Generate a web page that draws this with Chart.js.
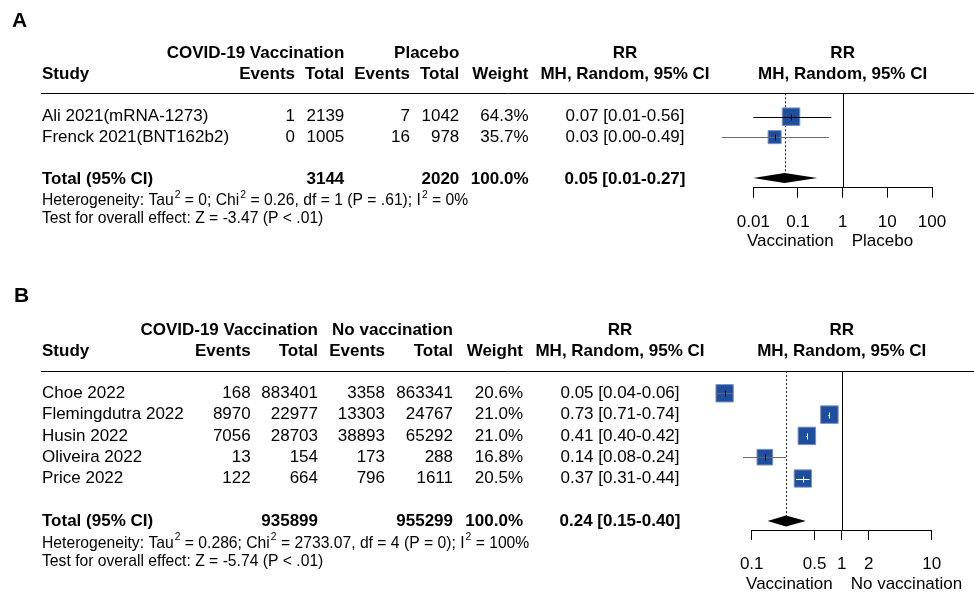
<!DOCTYPE html>
<html>
<head>
<meta charset="utf-8">
<title>Forest plots: COVID-19 vaccination</title>
<script src="https://cdn.jsdelivr.net/npm/chart.js@4.4.1/dist/chart.umd.min.js"></script>
<style>
  html, body { margin: 0; padding: 0; background: #fff; }
  #wrap { position: relative; width: 974px; height: 594px; overflow: hidden; }
  canvas { position: absolute; left: 0; }
</style>
</head>
<body>
<div id="wrap">
  <canvas id="panelA" width="974" height="280" style="top:0px"></canvas>
  <canvas id="panelB" width="974" height="314" style="top:280px"></canvas>
</div>
<script>
// ---------- Panel A: vaccination vs placebo ----------
const studiesA    = ['Ali 2021(mRNA-1273)', 'Frenck 2021(BNT162b2)'];
const vacEventsA  = [1, 0];
const vacTotalA   = [2139, 1005];
const ctrlEventsA = [7, 16];
const ctrlTotalA  = [1042, 978];
const weightA     = [64.3, 35.7];
const rrA         = [0.07, 0.03];
const rrLowA      = [0.01, 0.002];
const rrHighA     = [0.56, 0.49];
const pooledA     = [0.05, 0.01, 0.27];   // estimate, lower, upper
const ticksA      = [0.01, 0.1, 1, 10, 100];
const tickLabelsA = ['0.01', '0.1', '1', '10', '100'];
const groupsA     = ['COVID-19 Vaccination', 'Placebo'];
const sidesA      = ['Vaccination', 'Placebo'];
const notesA      = ['Heterogeneity: Tau² = 0; Chi² = 0.26, df = 1 (P = .61); I² = 0%',
                     'Test for overall effect: Z = -3.47 (P < .01)'];

// ---------- Panel B: vaccination vs no vaccination ----------
const studiesB    = ['Choe 2022', 'Flemingdutra 2022', 'Husin 2022', 'Oliveira 2022', 'Price 2022'];
const vacEventsB  = [168, 8970, 7056, 13, 122];
const vacTotalB   = [883401, 22977, 28703, 154, 664];
const ctrlEventsB = [3358, 13303, 38893, 173, 796];
const ctrlTotalB  = [863341, 24767, 65292, 288, 1611];
const weightB     = [20.6, 21.0, 21.0, 16.8, 20.5];
const rrB         = [0.05, 0.73, 0.41, 0.14, 0.37];
const rrLowB      = [0.04, 0.71, 0.40, 0.08, 0.31];
const rrHighB     = [0.06, 0.74, 0.42, 0.24, 0.44];
const pooledB     = [0.24, 0.15, 0.40];
const ticksB      = [0.1, 0.5, 1, 2, 10];
const tickLabelsB = ['0.1', '0.5', '1', '2', '10'];
const groupsB     = ['COVID-19 Vaccination', 'No vaccination'];
const sidesB      = ['Vaccination', 'No vaccination'];
const notesB      = ['Heterogeneity: Tau² = 0.286; Chi² = 2733.07, df = 4 (P = 0); I² = 100%',
                     'Test for overall effect: Z = -5.74 (P < .01)'];

// ---------- drawing ----------
const FAMILY = '"Liberation Sans", Arial, Helvetica, sans-serif';
const BODY = 17, NOTE = 15.7;
const SQUARE_MAX = 17.5;          // side of the heaviest study's box
const BOX_FILL = '#1e4f9f', BOX_EDGE = '#7d8fbd';

Chart.defaults.font.family = FAMILY;
Chart.defaults.color = '#000';

function font(size, bold) { return (bold ? 'bold ' : '') + size + 'px ' + FAMILY; }
function text(ctx, s, x, y, align, size, bold) {
  ctx.font = font(size, bold);
  ctx.textAlign = align;
  ctx.textBaseline = 'middle';
  ctx.fillStyle = '#000';
  ctx.fillText(s, x, y);
}
// "²" is drawn as a raised small 2
function noteText(ctx, s, x, y, size) {
  ctx.textAlign = 'left';
  ctx.textBaseline = 'middle';
  ctx.fillStyle = '#000';
  let cx = x;
  s.split('²').forEach((part, i) => {
    if (i > 0) {
      ctx.font = font(size * 0.66, false);
      ctx.fillText('2', cx + 1, y - size * 0.4);
      cx += ctx.measureText('2').width + 1;
    }
    ctx.font = font(size, false);
    ctx.fillText(part, cx, y);
    cx += ctx.measureText(part).width;
  });
}
function seg(ctx, x1, y1, x2, y2) {
  ctx.beginPath(); ctx.moveTo(x1, y1); ctx.lineTo(x2, y2); ctx.stroke();
}
const fmt = v => v.toFixed(2);
const ciLabel = (e, l, h) => `${fmt(e)} [${fmt(l)}-${fmt(h)}]`;
const sum = a => a.reduce((s, v) => s + v, 0);

function drawPanel(canvasId, p, L) {
  const n = p.studies.length;
  const totalRow = n + 1;
  const maxW = Math.max(...p.weight);
  const side = w => SQUARE_MAX * Math.sqrt(w / maxW);

  const forest = {
    id: 'forest' + canvasId,
    beforeDatasetsDraw(chart) {
      const { ctx, chartArea } = chart;
      const xs = chart.scales.x, ys = chart.scales.y;
      ctx.save();
      ctx.strokeStyle = '#000';
      ctx.lineWidth = 1;
      const ry = Math.round(chartArea.top) + 0.5;
      seg(ctx, L.ruleLeft, ry, chart.width, ry);
      const x1 = Math.round(xs.getPixelForValue(1)) + 0.5;
      seg(ctx, x1, chartArea.top, x1, chartArea.bottom);
      const xp = Math.round(xs.getPixelForValue(p.pooled[0])) + 0.5;
      ctx.setLineDash([2, 2]);
      ctx.strokeStyle = '#222';
      seg(ctx, xp, chartArea.top, xp, ys.getPixelForValue(totalRow));
      ctx.restore();
    },
    afterDatasetsDraw(chart) {
      const { ctx, chartArea } = chart;
      const xs = chart.scales.x, ys = chart.scales.y;
      ctx.save();
      // boxes whose estimate lies beyond the axis range are skipped by the
      // point element's area test, so draw those without an area limit
      chart.getDatasetMeta(0).data.forEach(pt => {
        if (pt.x < chartArea.left || pt.x > chartArea.right) pt.draw(ctx);
      });
      ctx.lineWidth = 1;
      p.rr.forEach((rr, i) => {
        const y = Math.round(ys.getPixelForValue(i)) + 0.5;
        const xe = xs.getPixelForValue(rr);
        const xl = xs.getPixelForValue(p.low[i]);
        const xh = xs.getPixelForValue(p.high[i]);
        const half = side(p.weight[i]) / 2;
        const inside = xl >= xe - half && xh <= xe + half;
        const offScale = p.low[i] < xs.min || p.high[i] > xs.max;
        ctx.strokeStyle = inside ? '#fff' : (offScale ? '#6a6a6a' : '#000');
        seg(ctx, xl, y, xh, y);
        ctx.strokeStyle = inside ? '#fff' : '#000';
        const xt = Math.round(xe) + 0.5;
        seg(ctx, xt, y - 3, xt, y + 3);
      });
      // pooled diamond
      const yT = ys.getPixelForValue(totalRow);
      const [pe, pl, ph] = p.pooled.map(v => xs.getPixelForValue(v));
      ctx.fillStyle = '#000';
      ctx.beginPath();
      ctx.moveTo(pl, yT); ctx.lineTo(pe, yT - L.diamondHalf);
      ctx.lineTo(ph, yT); ctx.lineTo(pe, yT + L.diamondHalf);
      ctx.closePath(); ctx.fill();
      ctx.restore();
    },
    afterDraw(chart) {
      const { ctx, chartArea } = chart;
      const xs = chart.scales.x, ys = chart.scales.y;
      const C = L.cols;
      const plotMid = (chartArea.left + chartArea.right) / 2;
      ctx.save();
      // panel letter
      ctx.font = 'bold ' + L.letterSize + 'px ' + FAMILY;
      ctx.textAlign = 'left'; ctx.textBaseline = 'middle'; ctx.fillStyle = '#000';
      ctx.fillText(L.letter, L.letterX, L.letterY);
      // headers
      text(ctx, p.groups[0], C.tot1, L.head1Y, 'right', BODY, true);
      text(ctx, p.groups[1], C.tot2, L.head1Y, 'right', BODY, true);
      text(ctx, 'RR', C.ci, L.head1Y, 'center', BODY, true);
      text(ctx, 'RR', plotMid, L.head1Y, 'center', BODY, true);
      text(ctx, 'Study', C.study, L.head2Y, 'left', BODY, true);
      text(ctx, 'Events', C.ev1, L.head2Y, 'right', BODY, true);
      text(ctx, 'Total', C.tot1, L.head2Y, 'right', BODY, true);
      text(ctx, 'Events', C.ev2, L.head2Y, 'right', BODY, true);
      text(ctx, 'Total', C.tot2, L.head2Y, 'right', BODY, true);
      text(ctx, 'Weight', C.weight, L.head2Y, 'right', BODY, true);
      text(ctx, 'MH, Random, 95% CI', C.ci, L.head2Y, 'center', BODY, true);
      text(ctx, 'MH, Random, 95% CI', plotMid, L.head2Y, 'center', BODY, true);
      // study rows
      p.studies.forEach((s, i) => {
        const y = ys.getPixelForValue(i);
        text(ctx, s, C.study, y, 'left', BODY, false);
        text(ctx, String(p.vacEvents[i]), C.ev1, y, 'right', BODY, false);
        text(ctx, String(p.vacTotal[i]), C.tot1, y, 'right', BODY, false);
        text(ctx, String(p.ctrlEvents[i]), C.ev2, y, 'right', BODY, false);
        text(ctx, String(p.ctrlTotal[i]), C.tot2, y, 'right', BODY, false);
        text(ctx, p.weight[i].toFixed(1) + '%', C.weight, y, 'right', BODY, false);
        text(ctx, ciLabel(p.rr[i], p.low[i], p.high[i]), C.ci, y, 'center', BODY, false);
      });
      // pooled row
      const yT = ys.getPixelForValue(totalRow) + L.totalTextShift;
      text(ctx, 'Total (95% CI)', C.study, yT, 'left', BODY, true);
      text(ctx, String(sum(p.vacTotal)), C.tot1, yT, 'right', BODY, true);
      text(ctx, String(sum(p.ctrlTotal)), C.tot2, yT, 'right', BODY, true);
      text(ctx, (100).toFixed(1) + '%', C.weight, yT, 'right', BODY, true);
      text(ctx, ciLabel(p.pooled[0], p.pooled[1], p.pooled[2]), C.ci, yT, 'center', BODY, true);
      // notes
      noteText(ctx, p.notes[0], C.study, L.note1Y, NOTE);
      noteText(ctx, p.notes[1], C.study, L.note2Y, NOTE);
      // favours labels either side of RR = 1
      const x1 = xs.getPixelForValue(1);
      text(ctx, p.sides[0], x1 - 9, L.sideY, 'right', BODY, false);
      text(ctx, p.sides[1], x1 + 9, L.sideY, 'left', BODY, false);
      ctx.restore();
    }
  };

  const canvas = document.getElementById(canvasId);
  const H = L.height, W = canvas.width;
  const AXIS_H = 60;
  new Chart(canvas, {
    type: 'scatter',
    data: {
      datasets: [{
        data: p.rr.map((v, i) => ({ x: v, y: i })),
        pointStyle: 'rect',
        pointRadius: ctx => side(p.weight[ctx.dataIndex]) / Math.SQRT2,
        backgroundColor: BOX_FILL,
        borderColor: BOX_EDGE,
        borderWidth: 1,
        clip: false
      }]
    },
    options: {
      responsive: false,
      animation: false,
      events: [],
      layout: {
        padding: {
          left: L.plotLeft,
          right: W - L.plotRight,
          top: L.ruleY,
          bottom: H - L.plotBottom - AXIS_H
        }
      },
      plugins: { legend: { display: false }, tooltip: { enabled: false } },
      scales: {
        x: {
          type: 'logarithmic',
          min: p.ticks[0],
          max: p.ticks[p.ticks.length - 1],
          afterBuildTicks: axis => { axis.ticks = p.ticks.map(v => ({ value: v })); },
          afterFit: axis => { axis.height = AXIS_H; },
          ticks: {
            autoSkip: false,
            maxRotation: 0,
            padding: 14,
            color: '#000',
            font: { size: BODY },
            callback: (v, i) => p.tickLabels[i]
          },
          grid: { drawOnChartArea: false, drawTicks: true, tickLength: 10, color: '#000', lineWidth: 1 },
          border: { display: true, color: '#000', width: 1 }
        },
        y: {
          type: 'linear',
          display: false,
          reverse: true,
          min: (L.ruleY - L.firstRowY) / L.rowStep,
          max: (L.plotBottom - L.firstRowY) / L.rowStep
        }
      }
    },
    plugins: [forest]
  });
}

drawPanel('panelA', {
  studies: studiesA, vacEvents: vacEventsA, vacTotal: vacTotalA,
  ctrlEvents: ctrlEventsA, ctrlTotal: ctrlTotalA, weight: weightA,
  rr: rrA, low: rrLowA, high: rrHighA, pooled: pooledA,
  ticks: ticksA, tickLabels: tickLabelsA, groups: groupsA, sides: sidesA, notes: notesA
}, {
  height: 280, letter: 'A', letterX: 12, letterY: 21, letterSize: 21,
  head1Y: 53.3, head2Y: 74, ruleY: 93.3, ruleLeft: 41,
  plotLeft: 753.3, plotRight: 932, plotBottom: 187.7,
  firstRowY: 116.7, rowStep: 20.43, totalTextShift: 1, diamondHalf: 5,
  note1Y: 201, note2Y: 219, sideY: 241,
  cols: { study: 42, ev1: 295, tot1: 344.3, ev2: 410, tot2: 459.3, weight: 528.5, ci: 625 }
});

drawPanel('panelB', {
  studies: studiesB, vacEvents: vacEventsB, vacTotal: vacTotalB,
  ctrlEvents: ctrlEventsB, ctrlTotal: ctrlTotalB, weight: weightB,
  rr: rrB, low: rrLowB, high: rrHighB, pooled: pooledB,
  ticks: ticksB, tickLabels: tickLabelsB, groups: groupsB, sides: sidesB, notes: notesB
}, {
  height: 314, letter: 'B', letterX: 14, letterY: 16, letterSize: 21,
  head1Y: 50.7, head2Y: 71.7, ruleY: 91, ruleLeft: 41,
  plotLeft: 751.7, plotRight: 931.7, plotBottom: 250,
  firstRowY: 113.3, rowStep: 21.3, totalTextShift: 0, diamondHalf: 5.5,
  note1Y: 263.3, note2Y: 281.7, sideY: 304,
  cols: { study: 42, ev1: 250.7, tot1: 318, ev2: 385, tot2: 453, weight: 523, ci: 620 }
});
</script>
</body>
</html>
